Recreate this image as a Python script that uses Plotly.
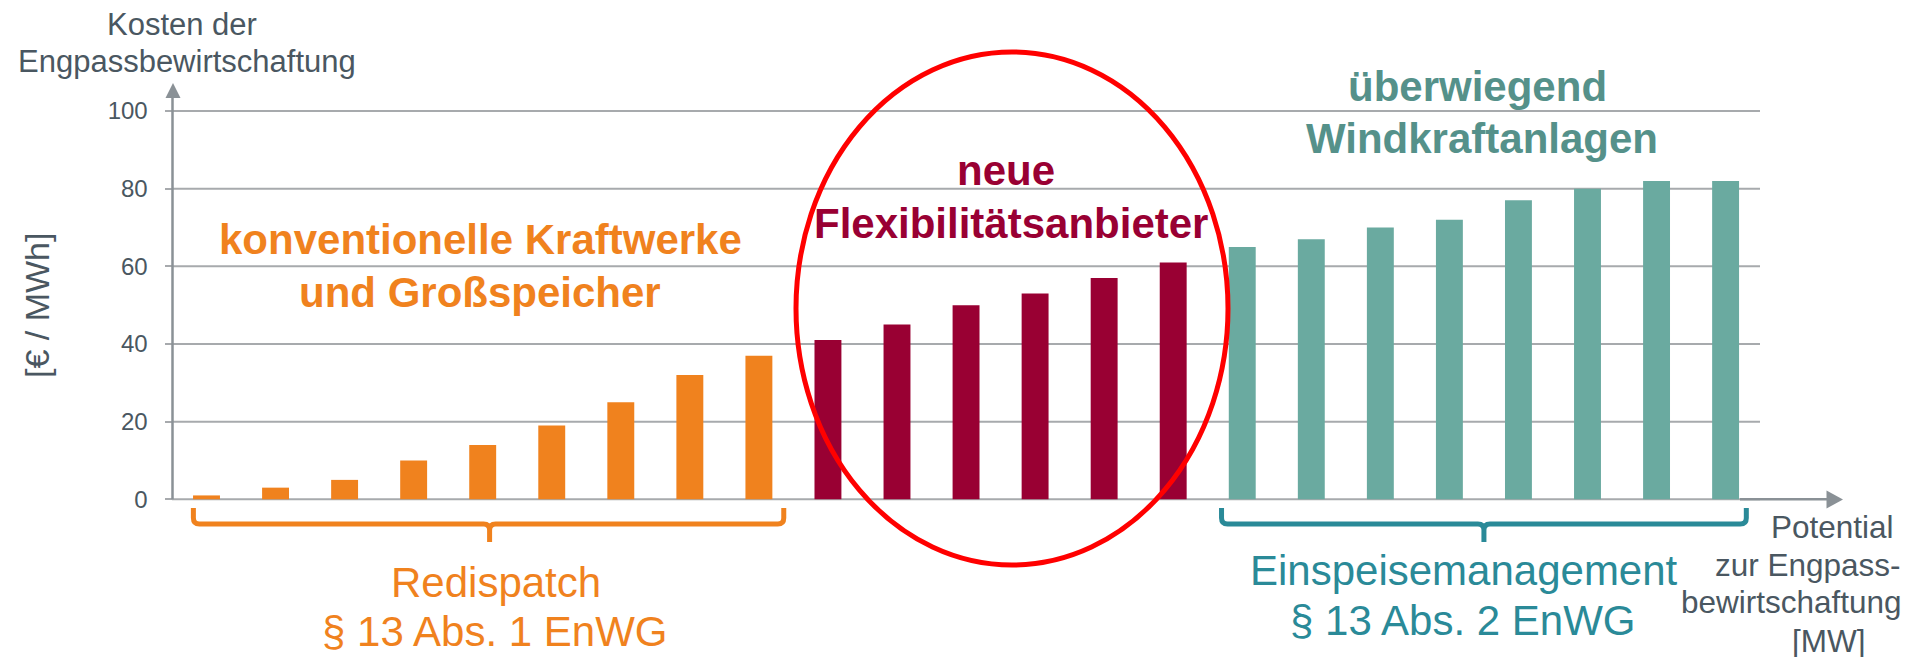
import plotly.graph_objects as go

# ---------------- data ----------------
konv_values = [1, 3, 5, 10, 14, 19, 25, 32, 37]          # konventionelle Kraftwerke
flex_values = [41, 45, 50, 53, 57, 61]                    # neue Flexibilitätsanbieter
wind_values = [65, 67, 70, 72, 77, 80, 82, 82]            # Windkraftanlagen
y_ticks = [0, 20, 40, 60, 80, 100]
y_tick_labels = ["0", "20", "40", "60", "80", "100"]

# ---------------- layout helpers ----------------
W, H = 1921, 657
PX0, PXU = 206.5, 69.05     # pixel of bar 0, pixels per bar step
PY0, PYU = 499.3, 3.883     # pixel of value 0, pixels per value unit


def dx(px):
    return (px - PX0) / PXU


def dy(py):
    return (PY0 - py) / PYU


FONT = "Liberation Sans, Arial, sans-serif"
GRAY = "#4A5761"
ORANGE = "#F0821E"
RED = "#990033"
TEAL_BAR = "#6AAAA0"
TEAL_TXT = "#55918A"
TEAL_BLUE = "#2A8A98"
GRID = "#A7AAAD"
AXIS = "#8A9196"

n1, n2, n3 = len(konv_values), len(flex_values), len(wind_values)
x_konv = list(range(0, n1))
x_flex = list(range(n1, n1 + n2))
x_wind = list(range(n1 + n2, n1 + n2 + n3))

fig = go.Figure()
for xs, ys, col in [(x_konv, konv_values, ORANGE),
                    (x_flex, flex_values, RED),
                    (x_wind, wind_values, TEAL_BAR)]:
    fig.add_trace(go.Bar(x=xs, y=ys, width=0.39, marker=dict(color=col, line=dict(width=0)),
                         showlegend=False, hoverinfo="x+y"))

shapes = []
# gridlines
for v in y_ticks:
    shapes.append(dict(type="line", xref="x", yref="y", x0=dx(172), x1=dx(1760), y0=v, y1=v,
                       line=dict(color=GRID, width=2), layer="below"))
# y axis line + arrow
ax_x = dx(172.5)
shapes.append(dict(type="line", xref="x", yref="y", x0=ax_x, x1=ax_x, y0=0, y1=dy(96),
                   line=dict(color=AXIS, width=2.5), layer="above"))
shapes.append(dict(type="path", xref="x", yref="y",
                   path=f"M {dx(165.5)},{dy(98)} L {dx(173)},{dy(83)} L {dx(180.5)},{dy(98)} Z",
                   fillcolor=AXIS, line=dict(width=0), layer="above"))
# x axis line + arrow
shapes.append(dict(type="line", xref="x", yref="y", x0=dx(1740), x1=dx(1828), y0=0, y1=0,
                   line=dict(color=AXIS, width=2.5), layer="above"))
shapes.append(dict(type="path", xref="x", yref="y",
                   path=f"M {dx(1826.5)},{dy(490.5)} L {dx(1843)},{dy(499.5)} L {dx(1826.5)},{dy(508.5)} Z",
                   fillcolor=AXIS, line=dict(width=0), layer="above"))


def brace(x0, x1, xm, color):
    yt, yl, yb = dy(508), dy(524), dy(542)
    rx, ry = 6 / PXU, 6 / PYU
    p = (f"M {x0},{yt} L {x0},{yl + ry} Q {x0},{yl} {x0 + rx},{yl} "
         f"L {xm - rx},{yl} Q {xm},{yl} {xm},{yl - ry} L {xm},{yb} "
         f"M {xm},{yl - ry} Q {xm},{yl} {xm + rx},{yl} "
         f"L {x1 - rx},{yl} Q {x1},{yl} {x1},{yl + ry} L {x1},{yt}")
    return dict(type="path", xref="x", yref="y", path=p, line=dict(color=color, width=5),
                layer="above")


shapes.append(brace(x_konv[0] - 0.19, x_konv[-1] + 0.36, 4.1, ORANGE))
shapes.append(brace(x_wind[0] - 0.30, x_wind[-1] + 0.30, (x_wind[0] + x_wind[-1]) / 2, TEAL_BLUE))

# red ellipse around flexibility providers
shapes.append(dict(type="circle", xref="x", yref="y", x0=dx(796), x1=dx(1228), y0=dy(565), y1=dy(52),
                   line=dict(color="#FF0000", width=5), layer="above"))

annotations = []


def txt(s, cx, base, size, color, bold=False):
    yc = base - 0.3465 * size
    annotations.append(dict(text=s, xref="paper", yref="paper", x=cx / W, y=1 - yc / H,
                            xanchor="center", yanchor="middle", showarrow=False,
                            font=dict(family=FONT, size=size, color=color,
                                      weight=700 if bold else 400)))


txt("Kosten der", 182, 35, 31, GRAY)
txt("Engpassbewirtschaftung", 187, 72, 31, GRAY)
annotations.append(dict(text="[€ / MWh]", xref="paper", yref="paper", x=37 / W, y=1 - 306 / H,
                        xanchor="center", yanchor="middle", showarrow=False, textangle=-90,
                        font=dict(family=FONT, size=34, color=GRAY)))
txt("konventionelle Kraftwerke", 480, 254, 42, ORANGE, True)
txt("und Großspeicher", 480, 307, 42, ORANGE, True)
txt("neue", 1006, 185, 42, RED, True)
txt("Flexibilitätsanbieter", 1011, 238, 42, RED, True)
txt("überwiegend", 1477, 101, 42, TEAL_TXT, True)
txt("Windkraftanlagen", 1482, 153, 42, TEAL_TXT, True)
txt("Redispatch", 496, 597, 42, ORANGE)
txt("§ 13 Abs. 1 EnWG", 495, 646, 42, ORANGE)
txt("Einspeisemanagement", 1464, 585, 42, TEAL_BLUE)
txt("§ 13 Abs. 2 EnWG", 1463, 635, 42, TEAL_BLUE)
txt("Potential", 1832, 538, 31.5, GRAY)
txt("zur Engpass-", 1808, 575.5, 31.5, GRAY)
txt("bewirtschaftung", 1791, 612.5, 31.5, GRAY)
txt("[MW]", 1828, 652, 31.5, GRAY)

fig.update_layout(
    width=W, height=H,
    margin=dict(l=0, r=0, t=0, b=0, pad=0),
    paper_bgcolor="white", plot_bgcolor="white",
    barmode="overlay",
    shapes=shapes, annotations=annotations,
    xaxis=dict(range=[dx(0), dx(W)], visible=False, fixedrange=True),
    yaxis=dict(range=[dy(H), dy(0)], anchor="free", position=172.5 / W,
               tickvals=y_ticks, ticktext=y_tick_labels,
               showgrid=False, zeroline=False, showline=False,
               ticks="outside", ticklen=8, tickwidth=2, tickcolor=GRID,
               ticklabelstandoff=12,
               tickfont=dict(family=FONT, size=24, color=GRAY), fixedrange=True),
    font=dict(family=FONT),
)

fig.write_html("out.html", include_plotlyjs=True, config={"displayModeBar": False},
               post_script="document.body.style.margin='0';document.body.style.overflow='hidden';")
